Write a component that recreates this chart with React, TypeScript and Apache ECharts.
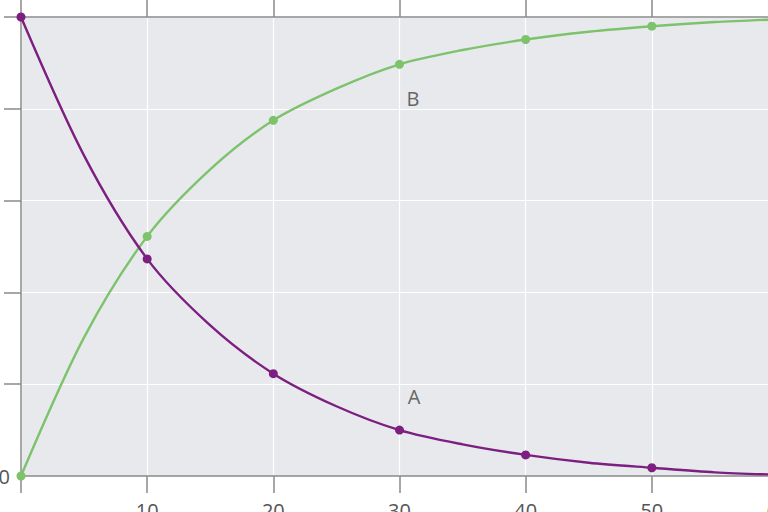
import React, { useEffect, useRef } from "react";
import * as echarts from "echarts";

// readings along the curves (markers only at multiples of 10)
const xValues = [0, 5, 10, 15, 20, 25, 30, 35, 40, 45, 50, 55, 60];
const seriesA = [100, 69.8, 47.3, 32.8, 22.3, 15.2, 10.0, 6.9, 4.6, 2.9, 1.8, 0.8, 0.3];
const seriesB = [0, 30.2, 52.2, 66.8, 77.5, 84.4, 89.7, 92.8, 95.1, 96.8, 98.0, 98.9, 99.5];
const markerX = [0, 10, 20, 30, 40, 50, 60];
const xTicks = [0, 10, 20, 30, 40, 50, 60];
const yTicks = [0, 20, 40, 60, 80, 100];
const curveLabels = [
  { name: "A", x: 414, y: 396 },
  { name: "B", x: 413, y: 98 },
];

const PURPLE = "#7c1f80";
const GREEN = "#7cc36c";
const AXIS = "#8a8a8a";
const FONT = "'Open Sans', 'Noto Sans', sans-serif";

export default function App() {
  const ref = useRef<HTMLDivElement>(null);
  useEffect(() => {
    if (!ref.current) return;
    const chart = echarts.init(ref.current, undefined, { renderer: "svg" });
    const pairs = (ys: number[]) =>
      xValues.map((x, i) =>
        markerX.includes(x) ? { value: [x, ys[i]] } : { value: [x, ys[i]], symbol: "none" }
      );
    chart.setOption({
      animation: false,
      backgroundColor: "#ffffff",
      grid: {
        left: 21,
        top: 17,
        right: -10,
        bottom: 36,
        show: true,
        backgroundColor: "#e8e9ed",
        borderWidth: 0,
        outerBoundsMode: "none",
        containLabel: false,
      },
      xAxis: [
        {
          type: "value",
          min: xTicks[0],
          max: xTicks[xTicks.length - 1],
          interval: 10,
          position: "bottom",
          axisLine: { show: true, lineStyle: { color: AXIS, width: 1.5 } },
          axisTick: { show: true, length: 17, lineStyle: { color: AXIS, width: 1.5 } },
          axisLabel: {
            margin: 24,
            fontSize: 20,
            color: "#555",
            fontFamily: FONT,
            hideOverlap: false,
            formatter: (v: number) => (v === 0 ? "" : String(v)),
          },
          splitLine: { show: true, lineStyle: { color: "#ffffff", width: 1.2 } },
        },
        {
          type: "value",
          min: xTicks[0],
          max: xTicks[xTicks.length - 1],
          interval: 10,
          position: "top",
          axisLine: { show: true, lineStyle: { color: AXIS, width: 1.5 } },
          axisTick: { show: true, length: 17, lineStyle: { color: AXIS, width: 1.5 } },
          axisLabel: { show: false },
          splitLine: { show: false },
        },
      ],
      yAxis: {
        type: "value",
        min: yTicks[0],
        max: yTicks[yTicks.length - 1],
        interval: 20,
        axisLine: { show: true, lineStyle: { color: AXIS, width: 1.5 } },
        axisTick: { show: true, length: 17, lineStyle: { color: AXIS, width: 1.5 }, customValues: yTicks.slice(1) },
        axisLabel: {
          margin: 11,
          fontSize: 20,
          color: "#555",
          fontFamily: FONT,
          padding: [8, 0, 0, 0],
          formatter: (v: number) => (v === 0 ? "0" : ""),
        },
        splitLine: { show: true, lineStyle: { color: "#ffffff", width: 1.2 } },
      },
      series: [
        {
          type: "line",
          data: pairs(seriesA),
          smooth: 0.3,
          symbol: "circle",
          symbolSize: 9,
          lineStyle: { color: PURPLE, width: 2.4 },
          itemStyle: { color: PURPLE },
          z: 3,
        },
        {
          type: "line",
          data: pairs(seriesB),
          smooth: 0.3,
          symbol: "circle",
          symbolSize: 9,
          lineStyle: { color: GREEN, width: 2.4 },
          itemStyle: { color: GREEN },
          z: 2,
        },
      ],
      graphic: curveLabels.map((l) => ({
        type: "text",
        x: l.x,
        y: l.y,
        style: { text: l.name, fontSize: 20, fill: "#666", fontFamily: FONT, align: "center", verticalAlign: "middle" },
      })),
    });
    return () => chart.dispose();
  }, []);
  return <div ref={ref} style={{ position: "fixed", left: 0, top: 0, width: 768, height: 512 }} />;
}
